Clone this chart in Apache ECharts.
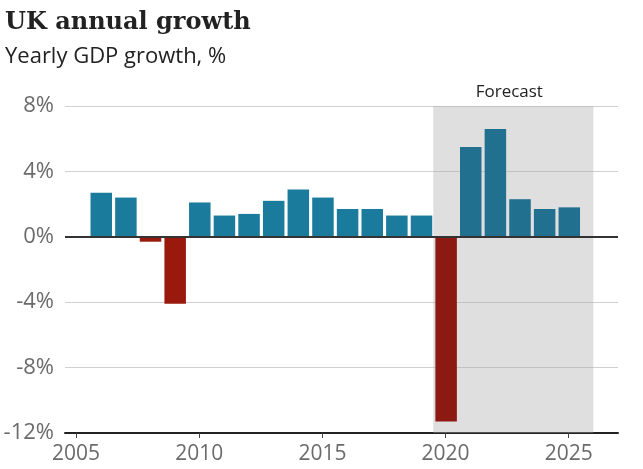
<!DOCTYPE html>
<html>
<head>
<meta charset="utf-8">
<script src="https://cdn.jsdelivr.net/npm/echarts@6/dist/echarts.min.js"></script>
<style>html,body{margin:0;padding:0;background:#fff}#c{width:643px;height:469px}</style>
</head>
<body>
<div id="c"></div>
<script>
// Data
const years = [2006,2007,2008,2009,2010,2011,2012,2013,2014,2015,2016,2017,2018,2019,2020,2021,2022,2023,2024,2025];
const growth = [2.7,2.4,-0.3,-4.1,2.1,1.3,1.4,2.2,2.9,2.4,1.7,1.7,1.3,1.3,-11.3,5.5,6.6,2.3,1.7,1.8];
const xTicks = [2005,2010,2015,2020,2025];
const yTicks = [-12,-8,-4,0,4,8];
const forecastStart = 2019.5;
const forecastEnd = 2026;

const chart = echarts.init(document.getElementById('c'), null, {renderer:'canvas'});
const barData = years.map((y,i)=>[y, growth[i]]);

chart.setOption({
  animation:false,
  backgroundColor:'#fff',
  title:[
    {text:'UK annual growth', left:0, top:6,
     textStyle:{fontFamily:'DejaVu Serif', fontWeight:'bold', fontSize:24, color:'#222'}},
    {text:'Yearly GDP growth, %', left:0, top:41,
     textStyle:{fontFamily:'Open Sans', fontWeight:'normal', fontSize:22, color:'#222'}}
  ],
  grid:{left:65, right:25, top:106, bottom:36, containLabel:false},
  xAxis:{
    type:'value', min:2004.55, max:2027.0,
    splitLine:{show:false},
    axisLine:{show:true, onZero:false, lineStyle:{color:'#222', width:2}},
    axisTick:{show:true, customValues:xTicks, length:5, lineStyle:{color:'#444', width:1}},
    axisLabel:{customValues:xTicks, color:'#6b6b6b', fontSize:21, fontFamily:'Open Sans', margin:11,
      formatter:v=>String(v)}
  },
  yAxis:{
    type:'value', min:-12, max:8, interval:4,
    axisLine:{show:false}, axisTick:{show:false},
    splitLine:{lineStyle:{color:'#d0d0d0', width:1}},
    axisLabel:{color:'#6b6b6b', fontSize:22, fontFamily:'Open Sans', margin:11,
      formatter:v=>v+'%'}
  },
  series:[
    {
      type:'bar', z:1, data:[], silent:true,
      markArea:{silent:true,
        itemStyle:{color:'rgba(170,170,170,0.38)'},
        label:{show:true, position:'top', distance:5, color:'#222', fontSize:17, fontFamily:'Open Sans', offset:[-4,0]},
        data:[[{name:'Forecast', coord:[forecastStart, 8]},{coord:[forecastEnd, -12]}]]
      }
    },
    {
      type:'bar', z:3, barWidth:21.5, data:barData,
      itemStyle:{color:p=>{
        const fc = p.value[0] > forecastStart;
        if (p.value[1] < 0) return fc ? '#8c1a12' : '#991a0c';
        return fc ? '#21708f' : '#1a7b9d';
      }},
      markLine:{silent:true, symbol:'none', z:5, label:{show:false},
        lineStyle:{color:'#333', width:2, type:'solid'},
        data:[{yAxis:0}]}
    }
  ]
});
</script>
</body>
</html>
